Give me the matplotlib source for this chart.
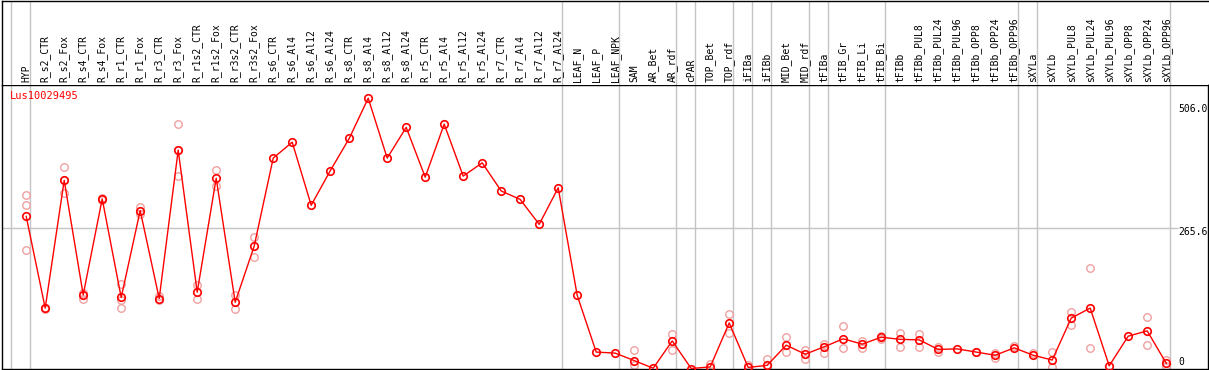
import matplotlib
matplotlib.use("Agg")
import matplotlib.pyplot as plt

# sample names along the top
samples = ["HYP", "R_s2_CTR", "R_s2_Fox", "R_s4_CTR", "R_s4_Fox", "R_r1_CTR", "R_r1_Fox",
           "R_r3_CTR", "R_r3_Fox", "R_r1s2_CTR", "R_r1s2_Fox", "R_r3s2_CTR", "R_r3s2_Fox",
           "R_s6_CTR", "R_s6_Al4", "R_s6_Al12", "R_s6_Al24", "R_s8_CTR", "R_s8_Al4",
           "R_s8_Al12", "R_s8_Al24", "R_r5_CTR", "R_r5_Al4", "R_r5_Al12", "R_r5_Al24",
           "R_r7_CTR", "R_r7_Al4", "R_r7_Al12", "R_r7_Al24", "LEAF_N", "LEAF_P", "LEAF_NPK",
           "SAM", "AR_Bet", "AR_rdf", "cPAR", "TOP_Bet", "TOP_rdf", "iFIBa", "iFIBb",
           "MID_Bet", "MID_rdf", "tFIBa", "tFIB_Gr", "tFIB_Li", "tFIB_Bi", "tFIBb",
           "tFIBb_PUL8", "tFIBb_PUL24", "tFIBb_PUL96", "tFIBb_OPP8", "tFIBb_OPP24",
           "tFIBb_OPP96", "sXYLa", "sXYLb", "sXYLb_PUL8", "sXYLb_PUL24", "sXYLb_PUL96",
           "sXYLb_OPP8", "sXYLb_OPP24", "sXYLb_OPP96"]

# mean expression per sample
means = [287, 114, 355, 139, 320, 134, 298, 132, 412, 144, 359, 125, 231,
         397, 427, 308, 373, 434, 510, 397, 455, 361, 461, 363, 388,
         335, 319, 272, 341, 138, 31, 29,
         15, 0.5, 52, 0, 3, 86, 2, 6,
         44, 27, 41, 56, 46, 59, 55,
         54, 36, 37, 31, 25, 39, 25, 16,
         95, 114, 5, 61, 71, 10]

# replicate values (empty where none are visible)
replicates = [[328, 308, 223], [112, 115], [380, 355, 331], [142, 131], [318, 321],
              [159, 114, 130], [305, 292], [137, 129], [461, 363, 412], [157, 131],
              [374, 344], [139, 112], [248, 211],
              [], [], [], [], [], [], [], [], [], [], [], [], [], [], [], [], [], [], [],
              [35, 7], [], [66, 35], [], [9], [103, 67], [7], [17],
              [59, 31], [35, 18], [47, 30], [80, 39], [51, 38], [61, 55], [67, 41],
              [65, 41], [40, 32], [], [32], [30, 19], [43], [29], [31, 2],
              [107, 83], [189, 38], [], [], [97, 44], [16, 5]]

# group separators sit just after these sample indices
group_ends = [-1, 0, 28, 31, 34, 35, 37, 38, 39, 41, 42, 45, 52, 53, 60]

gene = "Lus10029495"
axis_marks = ["506.0", "265.6", "0"]
axis_mark_vals = [490, 257, 13]

W, H = 1209, 370
fig = plt.figure(figsize=(W / 100, H / 100), dpi=100)
fig.patch.set_facecolor("white")

left, right, top_line, bottom_line = 1.5, 1207.5, 85, 368.5
ax = fig.add_axes([left / W, (H - bottom_line) / H, (right - left) / W,
                   (bottom_line - top_line) / H])
axh = fig.add_axes([left / W, (H - top_line) / H, (right - left) / W, (top_line - 0.5) / H],
                   sharex=ax)

xmin = (left - 26.2) / 19.0
xmax = (right - 26.2) / 19.0
ax.set_xlim(xmin, xmax)
ax.set_ylim(0, (bottom_line - top_line) / 0.53)
axh.set_ylim(0, 1)

for a in (ax, axh):
    a.set_xticks([])
    a.set_yticks([])
    for s in a.spines.values():
        s.set_color("black")
        s.set_linewidth(1.0)
    for g in group_ends:
        a.axvline(g + 0.22, color="#c4c4c4", lw=1.0, zorder=0)
axh.spines["bottom"].set_visible(False)
axh.spines["right"].set_visible(False)

mono = "DejaVu Sans Mono"
xs = list(range(len(samples)))
for x, name in zip(xs, samples):
    axh.text(x, 0.035, name, rotation=90, ha="center", va="bottom",
             fontsize=7, family=mono)

# horizontal reference line at the middle label
ax.hlines(265.6, xmin, (1178 - 26.2) / 19.0, color="#c4c4c4", lw=1.0, zorder=0)

# replicates (light) then mean line
for x, reps in zip(xs, replicates):
    for r in reps:
        ax.plot(x, r, marker="o", ms=5.4, mfc="none", mec="#f0a0a0", mew=1.0,
                ls="none", zorder=2, clip_on=False)
ax.plot(xs, means, color="#ff0000", lw=1.0, marker="o", ms=5.4, mfc="none",
        mec="#ff0000", mew=1.2, zorder=3)

ax.text((10 - 26.2) / 19.0, (bottom_line - 96) / 0.53, gene, color="#ff0000",
        fontsize=7.5, family=mono, ha="left", va="center")

xl = (1178 - 26.2) / 19.0
for lab, v in zip(axis_marks, axis_mark_vals):
    ax.text(xl, v, lab, fontsize=7, family=mono, ha="left", va="center", clip_on=True)

fig.savefig("out.png", dpi=100)
